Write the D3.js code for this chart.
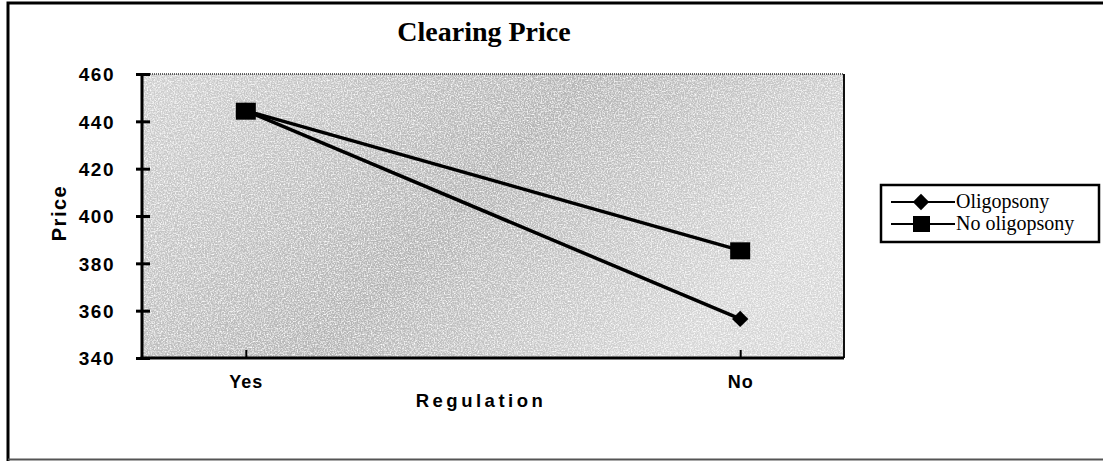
<!DOCTYPE html>
<html>
<head>
<meta charset="utf-8">
<script src="https://cdn.jsdelivr.net/npm/d3@7"></script>
<style>
  body { margin: 0; background: #fff; }
  svg { display: block; }
</style>
</head>
<body>
<svg id="chart" width="1103" height="461"></svg>
<script>
// data
const categories = ["Yes", "No"];
const oligopsony = [444.5, 356.5];
const noOligopsony = [444.5, 385.5];
const yTicks = [340, 360, 380, 400, 420, 440, 460];
const seriesNames = ["Oligopsony", "No oligopsony"];

const svg = d3.select("#chart");
const plot = { left: 142, right: 844, top: 74, bottom: 358 };
const sans = "Liberation Sans, Arial, sans-serif";
const serif = "Liberation Serif, Times New Roman, serif";

const x = d3.scalePoint().domain(categories).range([plot.left, plot.right]).padding(0.21);
const y = d3.scaleLinear().domain([340, 460]).range([plot.bottom, plot.top]);

// texture for the plot background
const defs = svg.append("defs");
const grad = defs.append("linearGradient").attr("id", "bg").attr("x1", "0").attr("x2", "1").attr("y1", "0").attr("y2", "0.4");
grad.append("stop").attr("offset", "0").attr("stop-color", "#cfcfcf");
grad.append("stop").attr("offset", "0.55").attr("stop-color", "#b4b4b4");
grad.append("stop").attr("offset", "1").attr("stop-color", "#d6d6d6");
const filt = defs.append("filter").attr("id", "noise").attr("x", 0).attr("y", 0).attr("width", 1).attr("height", 1);
filt.append("feTurbulence").attr("type", "fractalNoise").attr("baseFrequency", 0.7).attr("numOctaves", 2).attr("seed", 5).attr("result", "n");
filt.append("feColorMatrix").attr("in", "n").attr("type", "matrix")
  .attr("values", "0 0 0 0 1  0 0 0 0 1  0 0 0 0 1  2.2 0 0 0 -0.85").attr("result", "a");
filt.append("feComposite").attr("in", "a").attr("in2", "SourceGraphic").attr("operator", "in");

// outer frame
svg.append("path").attr("d", "M8,461 V3 H1103").attr("fill", "none").attr("stroke", "#000").attr("stroke-width", 3);
svg.append("line").attr("x1", 8).attr("x2", 1103).attr("y1", 459.5).attr("y2", 459.5).attr("stroke", "#555").attr("stroke-width", 2);

// plot area
svg.append("rect").attr("x", plot.left).attr("y", plot.top)
  .attr("width", plot.right - plot.left).attr("height", plot.bottom - plot.top)
  .attr("fill", "url(#bg)");
svg.append("rect").attr("x", plot.left).attr("y", plot.top)
  .attr("width", plot.right - plot.left).attr("height", plot.bottom - plot.top)
  .attr("fill", "#fff").attr("filter", "url(#noise)");
svg.append("line").attr("x1", plot.left).attr("x2", plot.right).attr("y1", plot.top).attr("y2", plot.top)
  .attr("stroke", "#333").attr("stroke-width", 1.5).attr("stroke-dasharray", "1,1");
svg.append("line").attr("x1", plot.right).attr("x2", plot.right).attr("y1", plot.top).attr("y2", plot.bottom)
  .attr("stroke", "#111").attr("stroke-width", 2);

// y axis
const yAxis = svg.append("g").attr("transform", `translate(${plot.left},0)`)
  .call(d3.axisLeft(y).tickValues(yTicks).tickSize(6).tickPadding(21));
yAxis.select(".domain").remove();
yAxis.selectAll(".tick line").attr("x2", -6).attr("x1", 8).attr("stroke", "#000").attr("stroke-width", 3);
yAxis.selectAll(".tick text").attr("font-family", sans)
  .attr("font-weight", "bold").attr("font-size", 19).attr("letter-spacing", 1.5).attr("fill", "#000").attr("dy", "0.36em");
svg.append("line").attr("x1", plot.left).attr("x2", plot.left).attr("y1", plot.top - 1).attr("y2", plot.bottom + 1.5)
  .attr("stroke", "#000").attr("stroke-width", 3);

// x axis
const xAxis = svg.append("g").attr("transform", `translate(0,${plot.bottom})`)
  .call(d3.axisBottom(x).tickSize(-8).tickPadding(17));
xAxis.select(".domain").remove();
xAxis.selectAll(".tick line").attr("stroke", "#000").attr("stroke-width", 2);
xAxis.selectAll(".tick text").attr("font-family", sans)
  .attr("font-weight", "bold").attr("font-size", 18).attr("letter-spacing", 1).attr("fill", "#000");
svg.append("line").attr("x1", plot.left - 1.5).attr("x2", plot.right).attr("y1", plot.bottom).attr("y2", plot.bottom)
  .attr("stroke", "#000").attr("stroke-width", 3);

// titles
svg.append("text").attr("x", 484).attr("y", 41).attr("text-anchor", "middle")
  .attr("font-family", serif).attr("font-weight", "bold").attr("font-size", 28)
  .text("Clearing Price");
svg.append("text").attr("transform", "translate(66,213) rotate(-90)").attr("text-anchor", "middle")
  .attr("font-family", sans).attr("font-weight", "bold").attr("font-size", 20)
  .attr("letter-spacing", 1.5).text("Price");
svg.append("text").attr("x", 481).attr("y", 407).attr("text-anchor", "middle")
  .attr("font-family", sans).attr("font-weight", "bold").attr("font-size", 18.5)
  .attr("letter-spacing", 3.5).text("Regulation");

// series
const line = d3.line().x((d, i) => x(categories[i])).y(d => y(d));
const series = [oligopsony, noOligopsony];
series.forEach((vals, s) => {
  svg.append("path").datum(vals).attr("d", line).attr("fill", "none")
    .attr("stroke", "#000").attr("stroke-width", 3.5);
});
const diamond = d3.symbol().type(d3.symbolDiamond2).size(170);
svg.selectAll(".m1").data(oligopsony).join("path")
  .attr("transform", (d, i) => `translate(${x(categories[i])},${y(d)})`)
  .attr("d", diamond).attr("fill", "#000");
svg.selectAll(".m2").data(noOligopsony).join("rect")
  .attr("x", (d, i) => x(categories[i]) - 10).attr("y", d => y(d) - 8)
  .attr("width", 20).attr("height", 17).attr("fill", "#000");

// legend
const lg = svg.append("g").attr("transform", "translate(881,185)");
lg.append("rect").attr("width", 218).attr("height", 57).attr("fill", "#fff")
  .attr("stroke", "#000").attr("stroke-width", 2.5);
seriesNames.forEach((name, i) => {
  const yy = 17 + i * 22;
  lg.append("line").attr("x1", 10).attr("x2", 74).attr("y1", yy).attr("y2", yy)
    .attr("stroke", "#000").attr("stroke-width", 2);
  if (i === 0) {
    lg.append("path").attr("transform", `translate(40,${yy})`)
      .attr("d", d3.symbol().type(d3.symbolDiamond2).size(170)).attr("fill", "#000");
  } else {
    lg.append("rect").attr("x", 32).attr("y", yy - 8).attr("width", 17).attr("height", 16).attr("fill", "#000");
  }
  lg.append("text").attr("x", 75).attr("y", yy + 6)
    .attr("font-family", serif).attr("font-size", 20)
    .text(name);
});
</script>
</body>
</html>
